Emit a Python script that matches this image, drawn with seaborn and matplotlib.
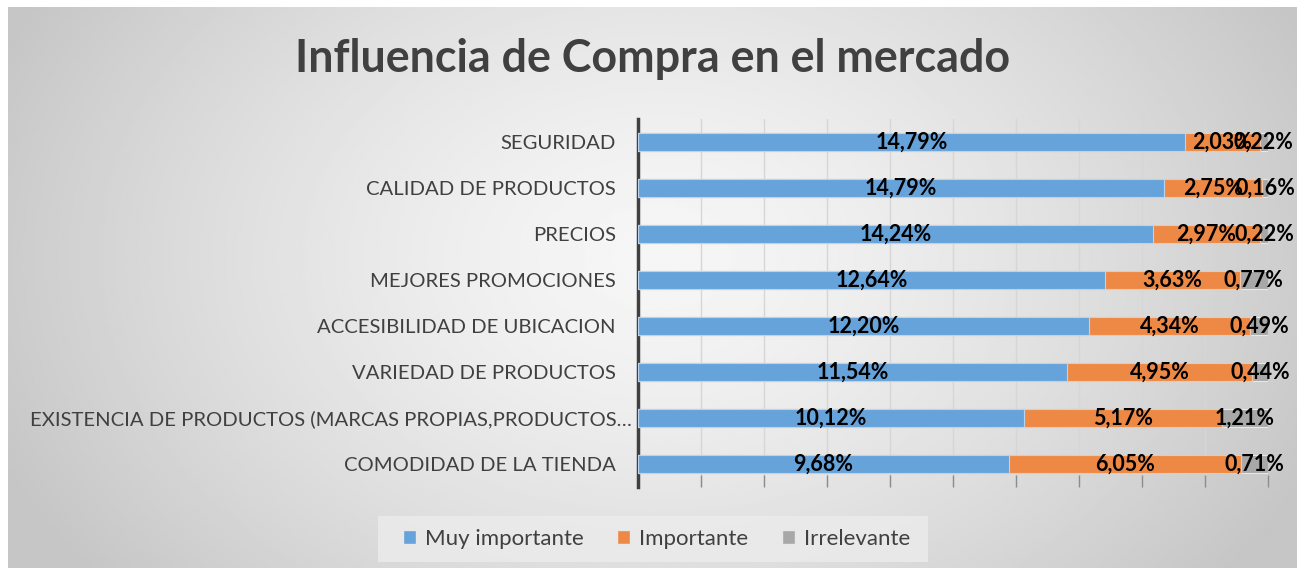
import numpy as np
import pandas as pd
import matplotlib.pyplot as plt
import seaborn as sns
from matplotlib.patches import Patch, Rectangle
from matplotlib.transforms import ScaledTranslation

# datos (porcentajes de cada respuesta)
categorias = ['SEGURIDAD', 'CALIDAD DE PRODUCTOS', 'PRECIOS', 'MEJORES PROMOCIONES',
              'ACCESIBILIDAD DE UBICACION', 'VARIEDAD DE PRODUCTOS',
              'EXISTENCIA DE PRODUCTOS (MARCAS PROPIAS,PRODUCTOS…',
              'COMODIDAD DE LA TIENDA']
muy_importante = [14.79, 14.79, 14.24, 12.64, 12.20, 11.54, 10.12, 9.68]
importante = [2.03, 2.75, 2.97, 3.63, 4.34, 4.95, 5.17, 6.05]
irrelevante = [0.22, 0.16, 0.22, 0.77, 0.49, 0.44, 1.21, 0.71]
series = ['Muy importante', 'Importante', 'Irrelevante']
colores = ['#66a3da', '#ee8945', '#a8a8a8']

sns.set_theme(style='white')
plt.rcParams['font.family'] = ['Lato', 'DejaVu Sans']

# grafico 100% apilado: paso cada serie a proporcion del total de la fila
df = pd.DataFrame({'categoria': categorias, 'muy': muy_importante,
                   'imp': importante, 'irr': irrelevante})
df['total'] = df['muy'] + df['imp'] + df['irr']
df['p_muy'] = 100 * df['muy'] / df['total']
df['p_imp'] = 100 * df['imp'] / df['total']
df['p_irr'] = 100 * df['irr'] / df['total']
df['acum1'] = df['p_muy']
df['acum2'] = df['p_muy'] + df['p_imp']
df['acum3'] = df['acum2'] + df['p_irr']

fig = plt.figure(figsize=(12.97, 5.71), dpi=100)
fig.patch.set_facecolor('white')

# fondo con degradado radial (estilo excel)
bg = fig.add_axes([8 / 1297, 3 / 571, 1289 / 1297, 561 / 571], zorder=-5)
xx, yy = np.meshgrid(np.linspace(0, 1289, 400), np.linspace(0, 561, 200))
r = np.sqrt(((xx - 650) / 720) ** 2 + ((yy - 250) / 520) ** 2)
r = np.clip(r, 0, 1)
val = 0.965 - (0.965 - 0.775) * r ** 1.4
bg.imshow(val, cmap='gray', vmin=0, vmax=1, aspect='auto', extent=[0, 1, 0, 1])
bg.axis('off')

ax = fig.add_axes([638 / 1297, 1 - 487 / 571, 630 / 1297, 368 / 571])
ax.patch.set_alpha(0)

ancho = 0.39
sns.barplot(data=df, x='acum3', y='categoria', color=colores[2], saturation=1,
            width=ancho, errorbar=None, edgecolor='#e8e8e8', linewidth=0.8, ax=ax, zorder=3)
sns.barplot(data=df, x='acum2', y='categoria', color=colores[1], saturation=1,
            width=ancho, errorbar=None, edgecolor='#f0c8a8', linewidth=0.8, ax=ax, zorder=4)
sns.barplot(data=df, x='acum1', y='categoria', color=colores[0], saturation=1,
            width=ancho, errorbar=None, edgecolor='#b8d4ee', linewidth=0.8, ax=ax, zorder=5)

# etiquetas de datos en el centro de cada segmento
def fmt(v):
    return f'{v:.2f}%'.replace('.', ',')

for i in range(len(df)):
    inicio = 0
    for col_p, col_v in [('p_muy', 'muy'), ('p_imp', 'imp'), ('p_irr', 'irr')]:
        w = df[col_p].iloc[i]
        ax.text(inicio + w / 2, i, fmt(df[col_v].iloc[i]), ha='center', va='center',
                fontsize=15.5, fontweight='bold', color='black', zorder=10, clip_on=False)
        inicio += w

ax.set_xlim(0, 100)
ax.set_ylim(len(df) - 0.5, -0.5)
ax.set_xticks(np.arange(0, 101, 10))
ax.set_xticklabels([])
ax.xaxis.grid(True, color='#d6d6d6', linewidth=1, zorder=0)
ax.set_axisbelow(True)
ax.tick_params(axis='x', direction='in', length=9, width=1, color='#8c8c8c', bottom=True)
ax.tick_params(axis='y', length=0, pad=16, labelsize=14.6, labelcolor='#404040')
ax.set_xlabel('')
ax.set_ylabel('')
for s in ['top', 'right', 'bottom']:
    ax.spines[s].set_visible(False)
ax.spines['left'].set_color('#404040')
ax.spines['left'].set_linewidth(2.5)

# la etiqueta larga queda un poco mas a la derecha en el original
lbl = ax.get_yticklabels()[6]
lbl.set_transform(lbl.get_transform() + ScaledTranslation(0.16, 0, fig.dpi_scale_trans))

fig.text(0.503, 0.897, 'Influencia de Compra en el mercado', ha='center', va='center',
         fontsize=32.3, fontweight='bold', color='#404040')

# caja de la leyenda
fig.patches.append(Rectangle((378 / 1297, 1 - 562 / 571), 550 / 1297, 46 / 571,
                             transform=fig.transFigure, facecolor='#ececec', alpha=0.8,
                             edgecolor='none', zorder=1))

handles = [Patch(facecolor=c, edgecolor='#e8e8e8', label=s) for s, c in zip(series, colores)]
leg = fig.legend(handles=handles, loc='center', bbox_to_anchor=(0.506, 1 - 539 / 571),
                 ncol=3, frameon=False, fontsize=16, handlelength=0.6, handleheight=0.6,
                 handletextpad=0.4, columnspacing=1.5, borderpad=0.3)
for t in leg.get_texts():
    t.set_color('#404040')

fig.savefig('out.png', dpi=100)
